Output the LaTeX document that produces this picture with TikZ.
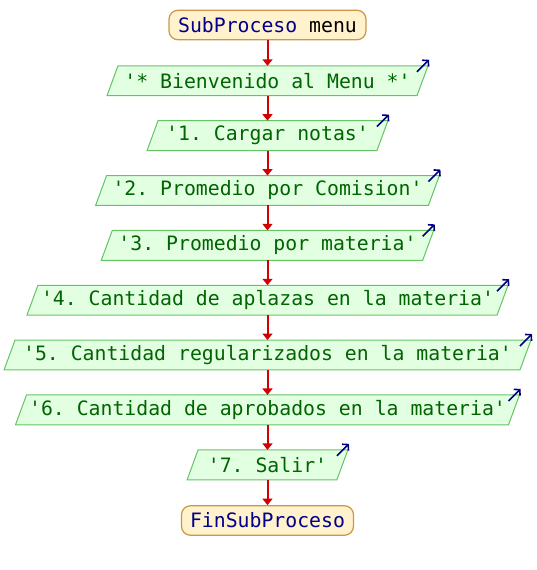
\documentclass[tikz,border=0pt]{standalone}
\usepackage{fontspec}
\setmonofont{DejaVu Sans Mono}
\usetikzlibrary{arrows.meta,backgrounds}
\definecolor{iofill}{RGB}{226,255,226}
\definecolor{ioborder}{RGB}{100,196,100}
\definecolor{iotextc}{RGB}{0,100,0}
\definecolor{termfill}{RGB}{255,242,204}
\definecolor{termborder}{RGB}{204,150,70}
\definecolor{kw}{RGB}{0,0,140}
\definecolor{flowred}{RGB}{210,0,0}
\definecolor{navy}{RGB}{0,0,128}
\tikzset{
  base/.style={font=\ttfamily\fontsize{19.8}{22}\selectfont\frenchspacing, inner sep=0pt, minimum height=29.5pt},
  iotext/.style={base, text=iotextc},
  iobox/.style={draw=ioborder, fill=iofill, line width=1pt},
  term/.style={base, draw=termborder, fill=termfill, rounded corners=9pt, line width=1.2pt, text=kw},
  flow/.style={draw=flowred, line width=2pt, -{Triangle[width=10pt,length=6.5pt]}},
  outarrow/.style={draw=navy, line width=1.6pt, -{Straight Barb[length=4pt,width=9pt]}}
}
\newcommand\iorow[4]{%
  \node[iotext, minimum width=#3] (#1) at (267.5,#2) {#4};
  \begin{pgfonlayer}{background}
    \draw[iobox] ([xshift=-5.5pt]#1.south west) -- ([xshift=5.5pt]#1.north west)
      -- ([xshift=5.5pt]#1.north east) -- ([xshift=-5.5pt]#1.south east) -- cycle;
  \end{pgfonlayer}
  \draw[outarrow] ([xshift=-5.5pt,yshift=-6pt]#1.north east) -- ([xshift=6.5pt,yshift=6pt]#1.north east);
}
\begin{document}
\begin{tikzpicture}[x=1pt,y=-1pt]
\useasboundingbox (0,0) rectangle (536,570);
\node[term, minimum width=197pt] (s) at (267.5,25) {SubProceso \textcolor{black}{menu}};
\iorow{r1}{80.75}{309.6pt}{'* Bienvenido al Menu *'}
\iorow{r2}{135.6}{229.5pt}{'1. Cargar notas'}
\iorow{r3}{190.5}{332.4pt}{'2. Promedio por Comision'}
\iorow{r4}{245.3}{321pt}{'3. Promedio por materia'}
\iorow{r5}{300.2}{469.7pt}{'4. Cantidad de aplazas en la materia'}
\iorow{r6}{355.0}{515.5pt}{'5. Cantidad regularizados en la materia'}
\iorow{r7}{409.9}{492.6pt}{'6. Cantidad de aprobados en la materia'}
\iorow{r8}{464.8}{149.4pt}{'7. Salir'}
\node[term, minimum width=172pt] (e) at (267.5,520.5) {FinSubProceso};
\draw[flow] (s.south) -- (r1.north);
\draw[flow] (r1.south) -- (r2.north);
\draw[flow] (r2.south) -- (r3.north);
\draw[flow] (r3.south) -- (r4.north);
\draw[flow] (r4.south) -- (r5.north);
\draw[flow] (r5.south) -- (r6.north);
\draw[flow] (r6.south) -- (r7.north);
\draw[flow] (r7.south) -- (r8.north);
\draw[flow] (r8.south) -- (e.north);
\end{tikzpicture}
\end{document}
